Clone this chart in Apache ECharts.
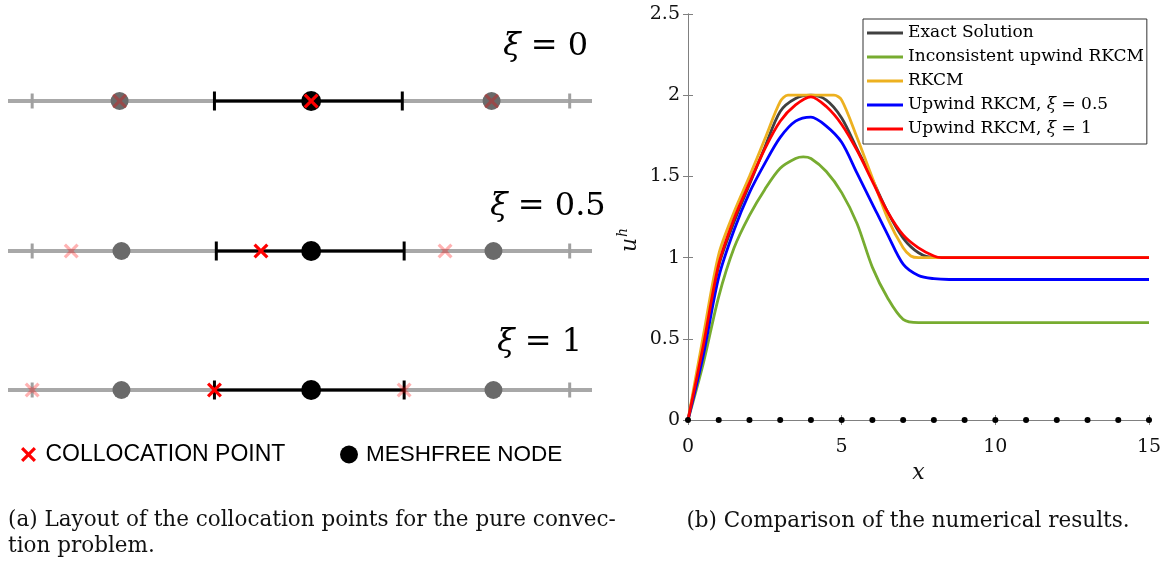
<!DOCTYPE html>
<html>
<head>
<meta charset="utf-8">
<script src="https://cdn.jsdelivr.net/npm/echarts@6.0.0/dist/echarts.min.js"></script>
<style>
  html, body { margin: 0; padding: 0; background: #fff; }
  #chart { width: 1169px; height: 565px; }
</style>
</head>
<body>
<div id="chart"></div>
<script>
// ---- (b) numerical results ----
const nodeX = [0, 1, 2, 3, 4, 5, 6, 7, 8, 9, 10, 11, 12, 13, 14, 15];
const exactPts = [[0,0],[0.5,0.47],[1,0.95],[1.5,1.22],[2,1.45],[2.5,1.68],[3,1.9],[3.5,1.98],[4,2.0],[4.5,1.97],[5,1.86],[5.5,1.67],[6,1.48],[6.5,1.28],[7,1.12],[7.5,1.03],[8,1.0],[15,1.0]];
const inconsistentPts = [[0,0],[0.5,0.35],[1,0.76],[1.5,1.06],[2,1.26],[2.5,1.42],[3,1.55],[3.5,1.61],[3.75,1.62],[4,1.61],[4.5,1.53],[5,1.4],[5.5,1.21],[6,0.94],[6.5,0.75],[7,0.62],[7.5,0.6],[15,0.6]];
const rkcmPts = [[0,0],[0.5,0.52],[1,1.02],[1.5,1.28],[2,1.5],[2.5,1.73],[3,1.96],[3.25,2.0],[4.75,2.0],[5,1.97],[5.5,1.74],[6,1.49],[6.5,1.24],[7,1.06],[7.25,1.01],[7.5,1.0],[15,1.0]];
const upwind05Pts = [[0,0],[0.5,0.4],[1,0.88],[1.5,1.17],[2,1.4],[2.5,1.58],[3,1.74],[3.5,1.84],[4,1.865],[4.5,1.81],[5,1.71],[5.5,1.52],[6,1.33],[6.5,1.14],[7,0.96],[7.5,0.89],[8,0.87],[8.5,0.865],[15,0.865]];
const upwind1Pts = [[0,0],[0.5,0.46],[1,0.96],[1.5,1.24],[2,1.46],[2.5,1.67],[3,1.84],[3.5,1.94],[4,1.99],[4.5,1.93],[5,1.82],[5.5,1.66],[6,1.47],[6.5,1.28],[7,1.14],[7.5,1.06],[8,1.01],[8.25,1.0],[15,1.0]];

const curveNames = ['Exact Solution', 'Inconsistent upwind RKCM', 'RKCM', 'Upwind RKCM, ξ = 0.5', 'Upwind RKCM, ξ = 1'];
const curveData = [exactPts, inconsistentPts, rkcmPts, upwind05Pts, upwind1Pts];
const curveColors = ['#404040', '#77ac30', '#edb120', '#0000ff', '#ff0000'];

// ---- (a) layout, positions in nodal spacings (centre node = 0) ----
const rowXi = ['0', '0.5', '1'];
const rowNodes = [[-1.03, 0, 0.97], [-1.02, 0, 0.98], [-1.02, 0, 0.98]];
const rowColloc = [[-1.03, 0, 0.97], [-1.29, -0.27, 0.72], [-1.5, -0.52, 0.5]];
const rowSupport = [[-0.52, 0.49], [-0.51, 0.5], [-0.52, 0.5]];
const rowEnds = [[-1.5, 1.39], [-1.5, 1.39], [-1.5, 1.39]];
const lineSpan = [-1.63, 1.51];

const SERIF = 'DejaVu Serif';
const XPATH = 'path://M0,3 L3,0 L10,7 L17,0 L20,3 L13,10 L20,17 L17,20 L10,13 L3,20 L0,17 L7,10 Z';
const rowTop = [101, 251, 390];

const chart = echarts.init(document.getElementById('chart'));

const grids = [{ left: 688, top: 14, width: 461, height: 406, outerBoundsMode: 'none' }];
const xAxes = [
  {
    type: 'value', gridIndex: 0, min: 0, max: 15, interval: 5,
    axisLine: { lineStyle: { color: '#808080', width: 1 } },
    axisTick: { inside: true, length: 5, lineStyle: { color: '#808080' } },
    axisLabel: { fontFamily: SERIF, fontSize: 19, color: '#111', margin: 18 },
    splitLine: { show: false },
    name: 'x', nameLocation: 'middle', nameGap: 42,
    nameTextStyle: { fontFamily: SERIF, fontStyle: 'italic', fontSize: 22, color: '#111' }
  },
  {
    type: 'value', gridIndex: 0, min: 0, max: 15, interval: 5, position: 'top',
    axisLine: { lineStyle: { color: '#808080', width: 1 } },
    axisTick: { inside: true, length: 5, lineStyle: { color: '#808080' } },
    axisLabel: { show: false }, splitLine: { show: false }
  }
];
const yAxes = [
  {
    type: 'value', gridIndex: 0, min: 0, max: 2.5, interval: 0.5,
    axisLine: { show: true, lineStyle: { color: '#808080', width: 1 } },
    axisTick: { show: true, inside: true, length: 5, lineStyle: { color: '#808080' } },
    axisLabel: { fontFamily: SERIF, fontSize: 19, color: '#111', margin: 8 },
    splitLine: { show: false },
    name: '{u|u}{h|h}', nameLocation: 'middle', nameGap: 44, nameRotate: 90,
    nameTextStyle: {
      padding: [0, 46, 0, 0],
      rich: {
        u: { fontFamily: SERIF, fontStyle: 'italic', fontSize: 22, color: '#111' },
        h: { fontFamily: SERIF, fontStyle: 'italic', fontSize: 14, color: '#111', padding: [0, 0, 14, 1] }
      }
    }
  },
  {
    type: 'value', gridIndex: 0, min: 0, max: 2.5, interval: 0.5, position: 'right',
    axisLine: { show: true, lineStyle: { color: '#808080', width: 1 } },
    axisTick: { show: true, inside: true, length: 5, lineStyle: { color: '#808080' } },
    axisLabel: { show: false }, splitLine: { show: false }
  }
];

const series = [];
curveData.forEach((pts, i) => {
  series.push({
    name: curveNames[i], type: 'line', xAxisIndex: 0, yAxisIndex: 0,
    data: pts, symbol: 'none', smooth: 0.3,
    lineStyle: { color: curveColors[i], width: 2.8 },
    itemStyle: { color: curveColors[i] }, z: 2 + i
  });
});
series.push({
  type: 'scatter', xAxisIndex: 0, yAxisIndex: 0,
  data: nodeX.map(x => [x, 0]), symbolSize: 6,
  itemStyle: { color: '#000', opacity: 1 }, z: 10, silent: true
});

// rows of panel (a): one hidden grid + axis pair per row
for (let r = 0; r < 3; r++) {
  const gi = grids.length;
  const ai = xAxes.length;
  grids.push({ left: 8, width: 584, top: rowTop[r] - 20, height: 40, outerBoundsMode: 'none' });
  xAxes.push({ type: 'value', gridIndex: gi, min: lineSpan[0], max: lineSpan[1], show: false });
  yAxes.push({ type: 'value', gridIndex: gi, min: -1, max: 1, show: false });
  const ax = { xAxisIndex: ai, yAxisIndex: ai, silent: true };
  series.push(Object.assign({
    type: 'line', data: lineSpan.map(x => [x, 0]), symbol: 'none',
    lineStyle: { color: '#a8a8a8', width: 4 }, z: 1
  }, ax));
  series.push(Object.assign({
    type: 'scatter', data: rowEnds[r].map(x => [x, 0]), symbol: 'rect', symbolSize: [3, 15],
    itemStyle: { color: '#a0a0a0', opacity: 1 }, z: 2
  }, ax));
  series.push(Object.assign({
    type: 'line', data: rowSupport[r].map(x => [x, 0]), symbol: 'none',
    lineStyle: { color: '#000', width: 3 }, z: 3
  }, ax));
  series.push(Object.assign({
    type: 'scatter', data: rowSupport[r].map(x => [x, 0]), symbol: 'rect', symbolSize: [3, 19],
    itemStyle: { color: '#000', opacity: 1 }, z: 3
  }, ax));
  series.push(Object.assign({
    name: 'MESHFREE NODE', type: 'scatter',
    data: rowNodes[r].map((x, i) => ({
      value: [x, 0], symbolSize: i === 1 ? 20 : 18,
      itemStyle: { color: i === 1 ? '#000' : '#6a6a6a' }
    })),
    itemStyle: { color: '#000', opacity: 1 }, z: 4
  }, ax));
  series.push(Object.assign({
    name: 'COLLOCATION POINT', type: 'scatter', symbol: XPATH, symbolSize: 15,
    data: rowColloc[r].map((x, i) => ({
      value: [x, 0],
      itemStyle: { color: i === 1 ? '#ff0000' : 'rgba(255,0,0,0.3)' }
    })),
    itemStyle: { color: '#ff0000', opacity: 1 }, z: 5
  }, ax));
}

const xiY = [47, 207, 343];
const xiX = [503, 490, 497];
const graphics = rowXi.map((v, r) => ({
  type: 'text', x: xiX[r], y: xiY[r],
  style: {
    text: '{i|ξ}{n| = ' + v + '}',
    verticalAlign: 'middle',
    rich: {
      i: { fontFamily: SERIF, fontStyle: 'italic', fontSize: 32, fill: '#000' },
      n: { fontFamily: SERIF, fontSize: 32, fill: '#000' }
    }
  }
}));
graphics.push({
  type: 'text', x: 8, y: 507,
  style: {
    text: '(a) Layout of the collocation points for the pure convec-\ntion problem.',
    fontFamily: SERIF, fontSize: 21.5, lineHeight: 26, fill: '#111'
  }
});
graphics.push({
  type: 'text', x: 908, y: 521,
  style: {
    text: '(b) Comparison of the numerical results.',
    fontFamily: SERIF, fontSize: 21.5, fill: '#111', align: 'center', verticalAlign: 'middle'
  }
});

const option = {
  animation: false,
  backgroundColor: '#fff',
  grid: grids,
  xAxis: xAxes,
  yAxis: yAxes,
  legend: [
    {
      data: curveNames, orient: 'vertical', left: 863, top: 19,
      icon: 'rect', itemWidth: 36, itemHeight: 3, itemGap: 0,
      padding: [2, 3, 3, 4],
      backgroundColor: '#fff', borderColor: '#333', borderWidth: 1,
      selectedMode: false,
      formatter: name => name.replace('ξ', '{i|ξ}'),
      textStyle: {
        fontFamily: SERIF, fontSize: 17, color: '#000', lineHeight: 24,
        rich: { i: { fontFamily: SERIF, fontStyle: 'italic', fontSize: 17, lineHeight: 24 } }
      }
    },
    {
      data: [{ name: 'COLLOCATION POINT', icon: XPATH, itemStyle: { color: '#ff0000', opacity: 1 } }], left: 21, top: 443,
      itemWidth: 24, itemHeight: 15, selectedMode: false, padding: 0,
      textStyle: { fontFamily: 'Liberation Sans', fontSize: 23, color: '#000' }
    },
    {
      data: [{ name: 'MESHFREE NODE', icon: 'circle', itemStyle: { color: '#000', opacity: 1 } }], left: 340, top: 443,
      itemWidth: 24, itemHeight: 18, selectedMode: false, padding: 0,
      textStyle: { fontFamily: 'Liberation Sans', fontSize: 22.5, color: '#000' }
    }
  ],
  graphic: graphics,
  series: series
};
chart.setOption(option);
</script>
</body>
</html>
